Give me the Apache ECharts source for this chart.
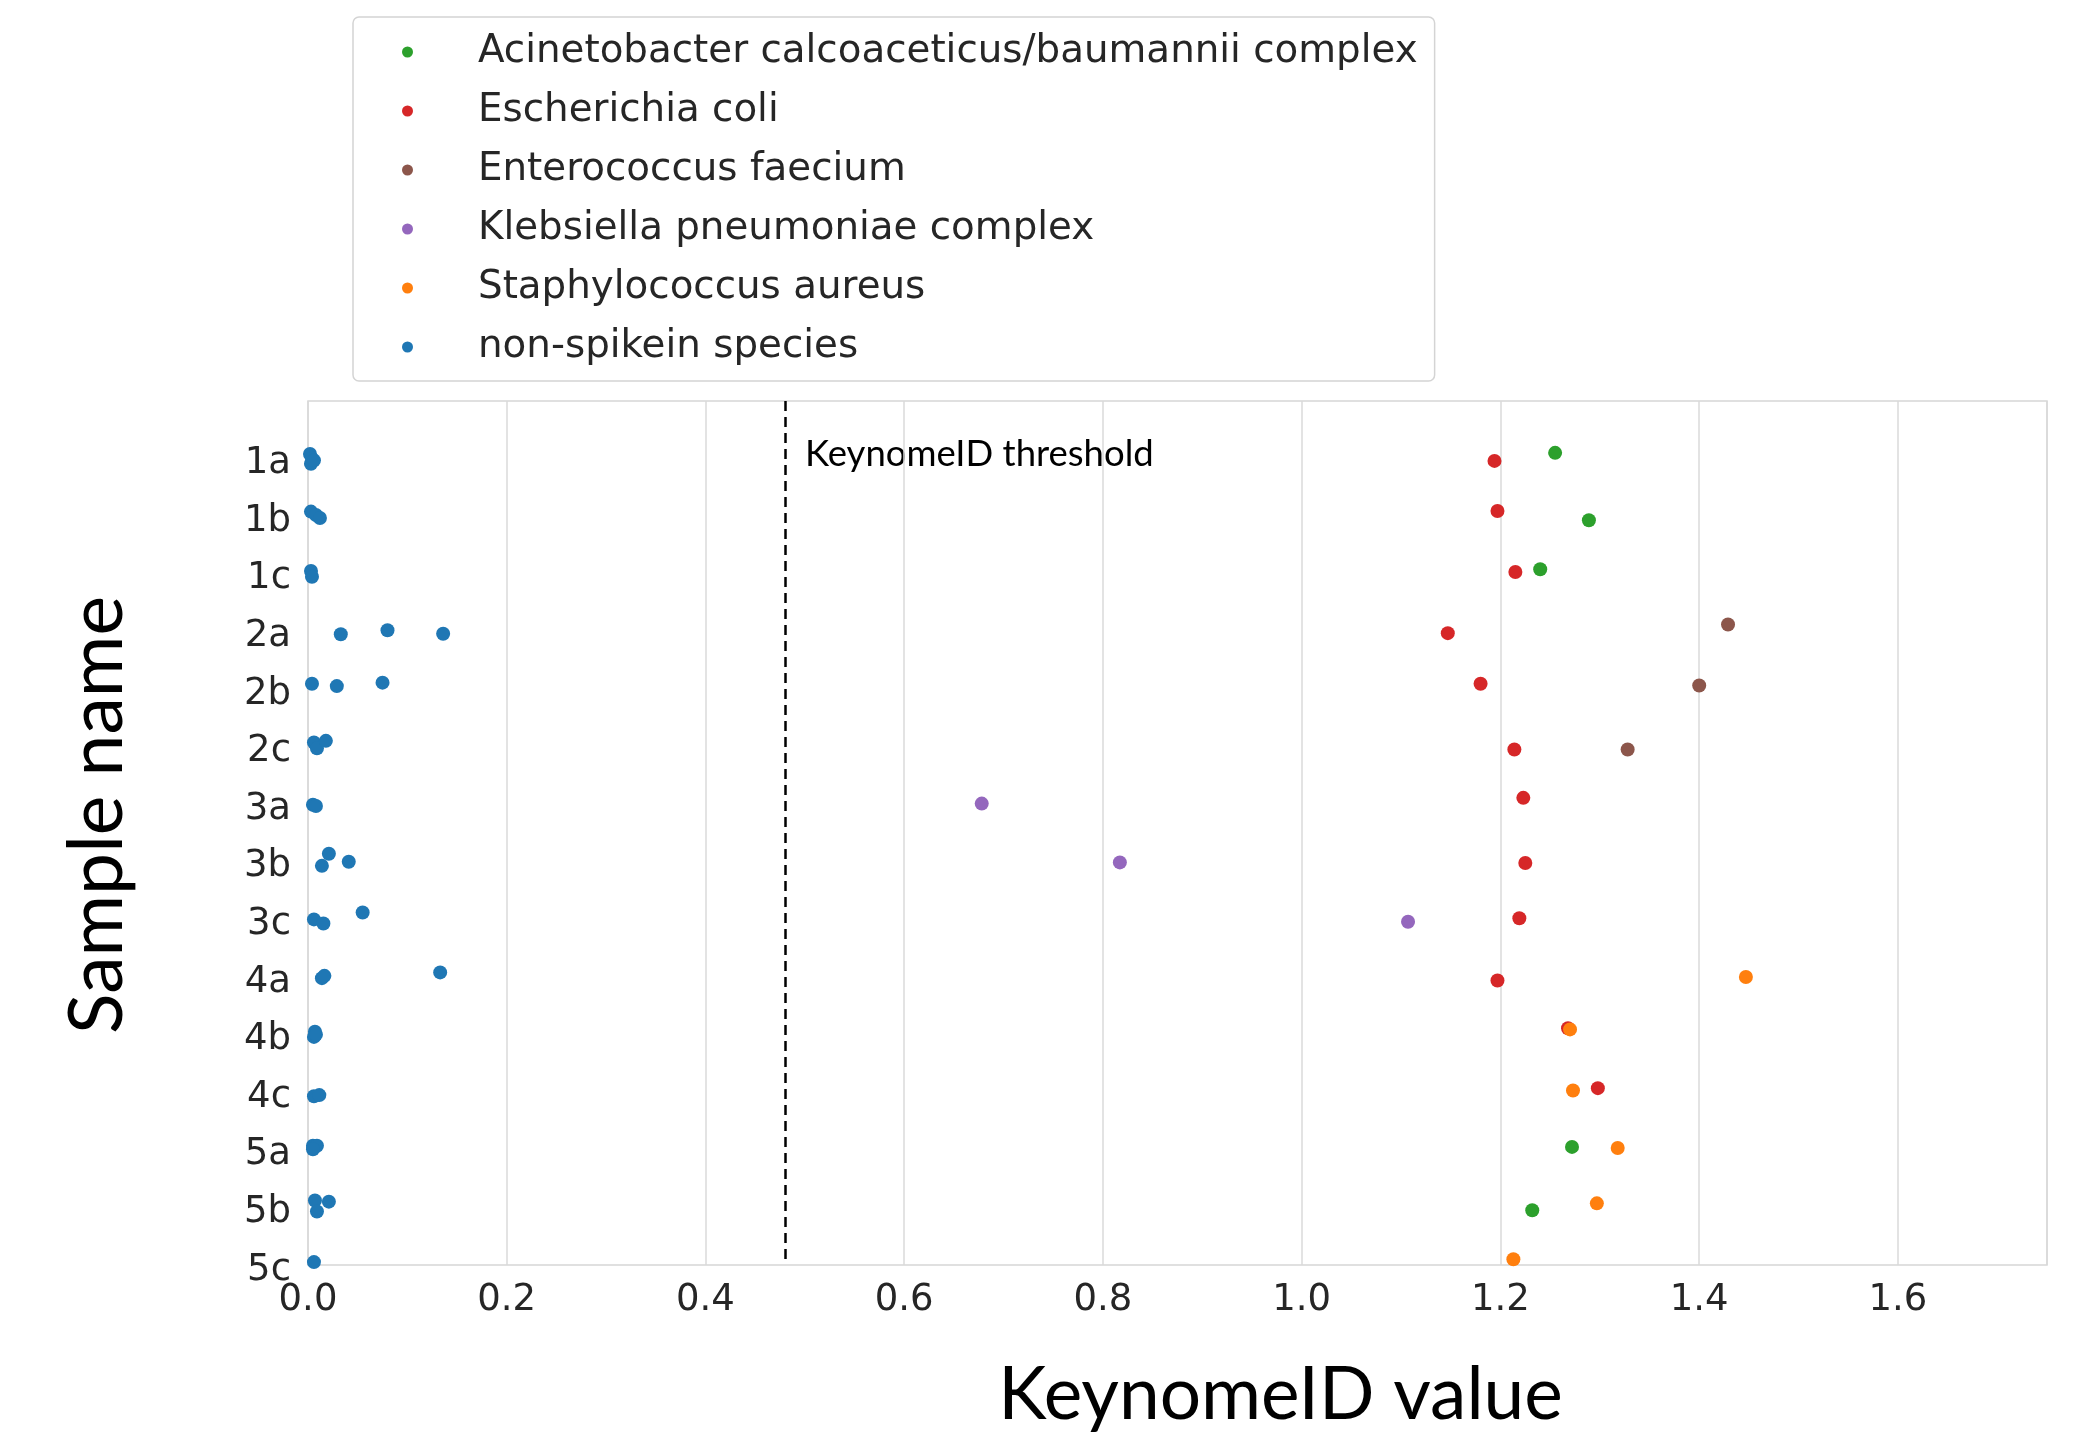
<!DOCTYPE html>
<html>
<head>
<meta charset="utf-8">
<script src="https://cdn.jsdelivr.net/npm/echarts@6/dist/echarts.min.js"></script>
<style>
  html, body { margin: 0; padding: 0; background: #fff; }
  #chart { width: 2082px; height: 1441px; }
</style>
</head>
<body>
<div id="chart"></div>
<script>
// sample rows, top to bottom
const samples = ['1a', '1b', '1c', '2a', '2b', '2c', '3a', '3b', '3c', '4a', '4b', '4c', '5a', '5b', '5c']
const threshold = 0.48

// each species: sample row, KeynomeID value, strip jitter (fraction of a row)
const acinetoSamples = ['1a', '1b', '1c', '5a', '5b', '5c']
const acinetoValues = [1.255, 1.289, 1.240, 1.272, 1.232, 1.257]
const acinetoJitter = [-0.10, 0.07, -0.08, -0.05, 0.05, 0.02]

const ecoliSamples = ['1a', '1b', '1c', '2a', '2b', '2c', '3a', '3b', '3c', '4a', '4b', '4c']
const ecoliValues = [1.194, 1.197, 1.215, 1.147, 1.180, 1.214, 1.223, 1.225, 1.219, 1.197, 1.268, 1.298]
const ecoliJitter = [0.04, -0.09, -0.03, 0.03, -0.09, 0.05, -0.11, 0.02, -0.02, 0.06, -0.11, -0.07]

const enteroSamples = ['2a', '2b', '2c']
const enteroValues = [1.429, 1.400, 1.328]
const enteroJitter = [-0.12, -0.06, 0.05]

const klebSamples = ['3a', '3b', '3c']
const klebValues = [0.678, 0.817, 1.107]
const klebJitter = [-0.01, 0.01, 0.04]

const staphSamples = ['4a', '4b', '4c', '5a', '5b', '5c']
const staphValues = [1.447, 1.270, 1.273, 1.318, 1.297, 1.213]
const staphJitter = [0.0, -0.09, -0.03, -0.03, -0.07, -0.10]

const otherSamples = ['1a', '1a', '1a', '1a', '1b', '1b', '1b', '1c', '1c',
  '2a', '2a', '2a', '2b', '2b', '2b', '2c', '2c', '2c', '3a', '3a',
  '3b', '3b', '3b', '3c', '3c', '3c', '4a', '4a', '4a', '4b', '4b', '4b',
  '4c', '4c', '5a', '5a', '5a', '5b', '5b', '5b', '5c']
const otherValues = [0.002, 0.004, 0.003, 0.006, 0.003, 0.008, 0.012, 0.003, 0.004,
  0.033, 0.080, 0.136, 0.004, 0.029, 0.075, 0.006, 0.009, 0.018, 0.005, 0.008,
  0.021, 0.014, 0.041, 0.006, 0.0155, 0.055, 0.014, 0.0165, 0.133, 0.007, 0.006, 0.008,
  0.006, 0.0114, 0.005, 0.009, 0.005, 0.007, 0.021, 0.009, 0.006]
const otherJitter = [-0.08, 0.0, 0.09, 0.03, -0.08, -0.02, 0.03, -0.05, 0.05,
  0.05, -0.02, 0.04, -0.09, -0.05, -0.11, -0.07, 0.03, -0.10, 0.01, 0.03,
  -0.14, 0.07, 0.0, 0.0, 0.07, -0.12, 0.02, -0.02, -0.08, -0.05, 0.04, 0.0,
  0.07, 0.05, -0.07, -0.07, -0.01, -0.12, -0.10, 0.07, -0.05]

const speciesNames = [
  'Acinetobacter calcoaceticus/baumannii complex',
  'Escherichia coli',
  'Enterococcus faecium',
  'Klebsiella pneumoniae complex',
  'Staphylococcus aureus',
  'non-spikein species',
]
const speciesColors = ['#2ca02c', '#d62728', '#8c564b', '#9467bd', '#ff7f0e', '#1f77b4']

function points(sampleList, values, jitter) {
  return values.map((v, i) => [v, samples.indexOf(sampleList[i]) + jitter[i]])
}

const pointSets = [
  points(acinetoSamples, acinetoValues, acinetoJitter),
  points(ecoliSamples, ecoliValues, ecoliJitter),
  points(enteroSamples, enteroValues, enteroJitter),
  points(klebSamples, klebValues, klebJitter),
  points(staphSamples, staphValues, staphJitter),
  points(otherSamples, otherValues, otherJitter),
]

const tickFont = 'DejaVu Sans'
const titleFont = 'Lato'

const chart = echarts.init(document.getElementById('chart'))

const series = speciesNames.map((name, i) => ({
  name,
  type: 'scatter',
  data: pointSets[i],
  symbol: 'circle',
  symbolSize: 14,
  itemStyle: { color: speciesColors[i], opacity: 1 },
  clip: true,
  z: 3,
}))

series[5].markLine = {
  silent: true,
  symbol: 'none',
  label: { show: false },
  lineStyle: { color: '#000', width: 2.5, type: [10, 6] },
  data: [{ xAxis: threshold }],
}

chart.setOption({
  animation: false,
  backgroundColor: '#fff',
  legend: {
    data: speciesNames,
    orient: 'vertical',
    left: 353,
    top: 17,
    padding: [15, 17, 14, 49],
    itemGap: 19,
    itemWidth: 11,
    itemHeight: 11,
    icon: 'circle',
    selectedMode: false,
    borderColor: '#d4d4d4',
    borderWidth: 1.5,
    borderRadius: 6,
    textStyle: {
      fontFamily: tickFont,
      fontSize: 38.8,
      lineHeight: 40,
      color: '#262626',
      padding: [0, 0, 0, 60],
    },
  },
  grid: {
    left: 308,
    right: 35,
    top: 401,
    bottom: 176,
    show: true,
    borderColor: '#d6d6d6',
    borderWidth: 1.5,
  },
  xAxis: {
    type: 'value',
    min: 0,
    max: 1.75,
    interval: 0.2,
    name: 'KeynomeID value',
    nameLocation: 'middle',
    nameGap: 94,
    nameTextStyle: {
      fontFamily: titleFont,
      fontSize: 73,
      color: '#000',
      padding: [0, 0, 0, 206],
    },
    axisLine: { show: false },
    axisTick: { show: false },
    axisLabel: {
      fontFamily: tickFont,
      fontSize: 37,
      color: '#262626',
      margin: 17,
      showMaxLabel: false,
      formatter: v => v.toFixed(1),
    },
    splitLine: { show: true, lineStyle: { color: '#dadada', width: 1.5 } },
  },
  yAxis: {
    type: 'value',
    inverse: true,
    min: -1,
    max: 14,
    interval: 1,
    name: 'Sample name',
    nameLocation: 'middle',
    nameGap: 173,
    nameRotate: 90,
    nameTextStyle: {
      fontFamily: titleFont,
      fontSize: 75,
      color: '#000',
      padding: [0, 0, 0, 36],
    },
    axisLine: { show: false },
    axisTick: { show: false },
    axisLabel: {
      fontFamily: tickFont,
      fontSize: 37,
      color: '#262626',
      margin: 17,
      verticalAlign: 'top',
      lineHeight: 10,
      formatter: v => samples[v] || '',
    },
    splitLine: { show: false },
  },
  graphic: [{
    type: 'text',
    left: 805,
    top: 436,
    style: {
      text: 'KeynomeID threshold',
      fontFamily: titleFont,
      fontSize: 36.5,
      fill: '#000',
    },
  }],
  series,
})
</script>
</body>
</html>
